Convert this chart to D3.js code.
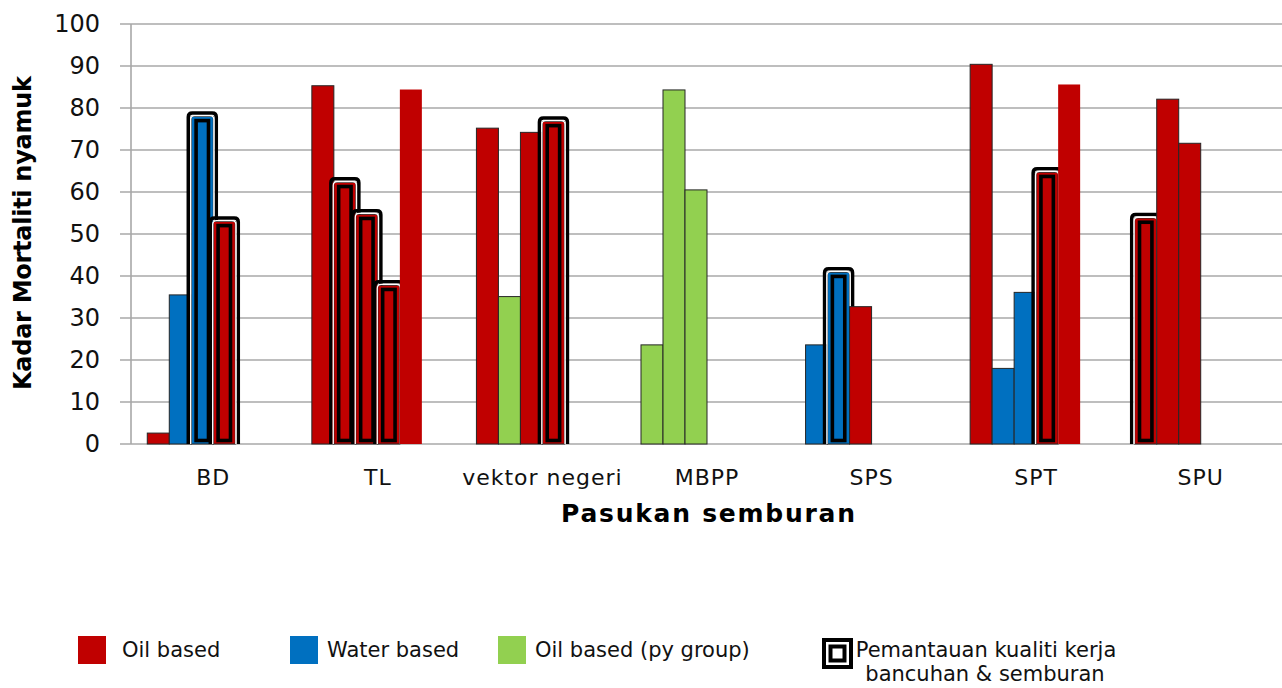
<!DOCTYPE html>
<html>
<head>
<meta charset="utf-8">
<script src="https://cdn.jsdelivr.net/npm/d3@7"></script>
<style>
  html, body { margin: 0; padding: 0; background: #fff; }
  svg { display: block; font-family: "DejaVu Sans", Verdana, sans-serif; }
</style>
</head>
<body>
<svg id="chart" width="1282" height="688"></svg>
<script>
// Spraying teams and the mosquito mortality measured for each formulation used
const categories = ["BD", "TL", "vektor negeri", "MBPP", "SPS", "SPT", "SPU"];
const mortality = [
  [2.6, 35.5, 78, 53],
  [85.3, 62.3, 54.7, 37.8, 84.4],
  [75.2, 35.1, 74.2, 76.8],
  [23.6, 84.3, 60.5],
  [23.6, 40.9, 32.7],
  [90.4, 18, 36.1, 64.7, 85.6],
  [53.8, 82.1, 71.6]
];
const formulation = [
  ["oil", "water", "water", "oil"],
  ["oil", "oil", "oil", "oil", "oil"],
  ["oil", "py", "oil", "oil"],
  ["py", "py", "py"],
  ["water", "water", "oil"],
  ["oil", "water", "water", "oil", "oil"],
  ["oil", "oil", "oil"]
];
// 1 = mixing & spraying quality monitored
const monitored = [
  [0, 0, 1, 1],
  [0, 1, 1, 1, 0],
  [0, 0, 0, 1],
  [0, 0, 0],
  [0, 1, 0],
  [0, 0, 0, 1, 0],
  [1, 0, 0]
];
const yTickValues = [0, 10, 20, 30, 40, 50, 60, 70, 80, 90, 100];
const legendKeys = ["oil", "water", "py"];
const legendLabels = ["Oil based", "Water based", "Oil based (py group)"];
const monitorLabel = ["Pemantauan kualiti kerja", "bancuhan & semburan"];

const colors = { oil: "#C00000", water: "#0070C0", py: "#92D050" };
const slotCount = 6;

const svg = d3.select("#chart");
const plot = { left: 131, right: 1283, top: 24, bottom: 444 };

const x = d3.scaleBand().domain(categories).range([plot.left, plot.right]).padding(0);
const slot = d3.scaleBand().domain(d3.range(slotCount))
  .range([0, x.bandwidth()]).paddingInner(0).paddingOuter(0.74);
const y = d3.scaleLinear().domain([0, 100]).range([plot.bottom, plot.top]);

// gridlines with tick stubs
const grid = svg.append("g").attr("class", "grid");
grid.selectAll("line").data(yTickValues).join("line")
  .attr("x1", 120).attr("x2", 1282)
  .attr("y1", d => y(d)).attr("y2", d => y(d))
  .attr("stroke", "#a8a8a8").attr("stroke-width", 1.6);
grid.append("line")
  .attr("x1", plot.left).attr("x2", plot.left)
  .attr("y1", y(100)).attr("y2", y(0))
  .attr("stroke", "#a8a8a8").attr("stroke-width", 1.6);

// y axis labels
const yAxis = d3.axisLeft(y).tickValues(yTickValues).tickSize(0).tickPadding(0);
const yg = svg.append("g").attr("transform", "translate(100,0)").call(yAxis);
yg.select(".domain").remove();
yg.selectAll("text").attr("font-size", 24).attr("fill", "#111")
  .attr("font-family", "DejaVu Sans, Verdana, sans-serif");

// category labels
const xAxis = d3.axisBottom(x).tickSize(0).tickPadding(0);
const xg = svg.append("g").attr("transform", "translate(0,469)").call(xAxis);
xg.select(".domain").remove();
xg.selectAll("text").attr("font-size", 22).attr("fill", "#111")
  .attr("letter-spacing", 1)
  .attr("font-family", "DejaVu Sans, Verdana, sans-serif");

// flatten cells per series slot
const cells = [];
categories.forEach((c, ci) => {
  mortality[ci].forEach((v, si) => {
    cells.push({ cat: c, slot: si, value: v, kind: formulation[ci][si], mon: monitored[ci][si] === 1 });
  });
});

const bars = svg.append("g").attr("class", "bars");
for (let s = 0; s < slotCount; s++) {
  const layer = bars.append("g");
  const data = cells.filter(d => d.slot === s);
  layer.selectAll("rect.bar").data(data).join("rect")
    .attr("class", "bar")
    .attr("x", d => x(d.cat) + slot(d.slot))
    .attr("y", d => y(d.value))
    .attr("width", slot.bandwidth())
    .attr("height", d => y(0) - y(d.value))
    .attr("fill", d => colors[d.kind])
    .attr("stroke", s === 4 ? "none" : "#262626")
    .attr("stroke-width", 1);

  const mon = data.filter(d => d.mon);
  // outer rounded frame of the compound border
  const framePath = (d, off, topOff) => {
    const x0 = x(d.cat) + slot(d.slot) - off;
    const x1 = x(d.cat) + slot(d.slot) + slot.bandwidth() + off;
    const t = y(d.value) - topOff;
    const b = y(0);
    const r = 4;
    return `M${x0},${b}V${t + r}Q${x0},${t} ${x0 + r},${t}H${x1 - r}Q${x1},${t} ${x1},${t + r}V${b}`;
  };
  layer.selectAll("path.frame").data(mon).join("path")
    .attr("class", "frame")
    .attr("d", d => framePath(d, 3, 3.5))
    .attr("fill", "none").attr("stroke", "#000").attr("stroke-width", 3.5);
  layer.selectAll("path.gap").data(mon).join("path")
    .attr("class", "gap")
    .attr("d", d => framePath(d, 0.6, 0.8))
    .attr("fill", "none").attr("stroke", "#fff").attr("stroke-width", 1.3);
  layer.selectAll("rect.inner").data(mon).join("rect")
    .attr("class", "inner")
    .attr("x", d => x(d.cat) + slot(d.slot) + 4.8)
    .attr("y", d => y(d.value) + 4.2)
    .attr("width", slot.bandwidth() - 9.6)
    .attr("height", d => y(0) - y(d.value) - 7.7)
    .attr("fill", "none").attr("stroke", "#000").attr("stroke-width", 3.6);
}

// axis titles
svg.append("text")
  .attr("x", 708).attr("y", 522)
  .attr("text-anchor", "middle")
  .attr("font-size", 25).attr("font-weight", "bold").attr("fill", "#000")
  .attr("textLength", 294).attr("lengthAdjust", "spacing")
  .text("Pasukan semburan");

svg.append("text")
  .attr("transform", "translate(31,233) rotate(-90)")
  .attr("text-anchor", "middle")
  .attr("font-size", 24).attr("font-weight", "bold").attr("fill", "#000")
  .attr("textLength", 314).attr("lengthAdjust", "spacing")
  .text("Kadar Mortaliti nyamuk");

// legend
const legendX = [78, 290, 498];
const legendTextX = [122, 327, 535];
const legend = svg.append("g").attr("class", "legend");
const items = legend.selectAll("g").data(legendKeys).join("g");
items.append("rect")
  .attr("x", (d, i) => legendX[i]).attr("y", 636)
  .attr("width", 28).attr("height", 28)
  .attr("fill", d => colors[d]);
items.append("text")
  .attr("x", (d, i) => legendTextX[i]).attr("y", 657)
  .attr("font-size", 21).attr("fill", "#111")
  .text((d, i) => legendLabels[i]);

const mk = legend.append("g").attr("transform", "translate(822,638)");
mk.append("rect").attr("x", 2).attr("y", 2).attr("width", 27).attr("height", 27)
  .attr("fill", "#fff").attr("stroke", "#000").attr("stroke-width", 4);
mk.append("rect").attr("x", 8.5).attr("y", 8.5).attr("width", 14).attr("height", 14)
  .attr("fill", "none").attr("stroke", "#000").attr("stroke-width", 4);
legend.append("text")
  .attr("x", 986).attr("y", 657)
  .attr("text-anchor", "middle")
  .attr("font-size", 21).attr("fill", "#111")
  .text(monitorLabel[0]);
legend.append("text")
  .attr("x", 985).attr("y", 681)
  .attr("text-anchor", "middle")
  .attr("font-size", 21).attr("fill", "#111")
  .text(monitorLabel[1]);
</script>
</body>
</html>
